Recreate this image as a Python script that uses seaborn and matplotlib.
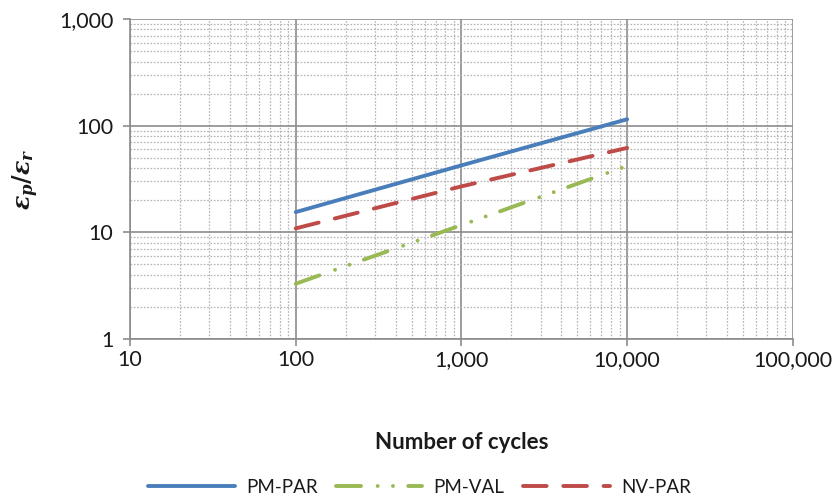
import matplotlib
matplotlib.use("Agg")
import matplotlib.pyplot as plt
import matplotlib.ticker as mticker
from matplotlib.lines import Line2D
import seaborn as sns
import pandas as pd

cycles = [100, 1000, 10000]
pm_par = [15.5, 42.5, 115]
pm_val = [3.3, 11.7, 42]
nv_par = [10.9, 27, 62]
series_names = ["PM-PAR", "PM-VAL", "NV-PAR"]

df = pd.DataFrame({
    "cycles": cycles * 3,
    "ratio": pm_par + pm_val + nv_par,
    "series": [n for n in series_names for _ in cycles],
})

sns.set_theme(style="white")
plt.rcParams['font.family'] = ['Lato', 'DejaVu Sans']
plt.rcParams['lines.scale_dashes'] = False
plt.rcParams['mathtext.fontset'] = 'custom'
plt.rcParams['mathtext.it'] = 'DejaVu Serif:italic:bold'
plt.rcParams['mathtext.rm'] = 'DejaVu Serif:bold'

fig = plt.figure(figsize=(8.39, 4.96), dpi=100)
ax = fig.add_axes([0.155, 0.3165, 0.79, 0.645])

colors = {"PM-PAR": "#4a7ebb", "PM-VAL": "#98b954", "NV-PAR": "#be4b48"}
dashes = {"PM-PAR": "", "PM-VAL": (18, 12, 0.01, 11, 0.01, 11), "NV-PAR": (17, 12)}
LW = 2.8

sns.lineplot(data=df, x="cycles", y="ratio", hue="series", style="series",
             palette=colors, dashes=dashes, linewidth=LW, ax=ax, legend=False)
for ln in ax.get_lines():
    ln.set_solid_capstyle("round")
    ln.set_dash_capstyle("round")

ax.set_xscale("log")
ax.set_yscale("log")
ax.set_xlim(10, 100000)
ax.set_ylim(1, 1000)

fmt = mticker.FuncFormatter(lambda v, p: f"{v:,.0f}")
ax.xaxis.set_major_formatter(fmt)
ax.yaxis.set_major_formatter(fmt)
ax.xaxis.set_minor_formatter(mticker.NullFormatter())
ax.yaxis.set_minor_formatter(mticker.NullFormatter())
ax.xaxis.set_minor_locator(mticker.LogLocator(base=10, subs=range(2, 10), numticks=20))
ax.yaxis.set_minor_locator(mticker.LogLocator(base=10, subs=range(2, 10), numticks=20))

ax.grid(which="major", color="#8c8c8c", linewidth=1.2, linestyle="-")
ax.grid(which="minor", color="#b4b4b4", linewidth=0.9, linestyle=(0, (1.2, 1.2)))
ax.set_axisbelow(True)

for s in ["top", "right"]:
    ax.spines[s].set_visible(False)
for s in ["left", "bottom"]:
    ax.spines[s].set_color("#8c8c8c")
    ax.spines[s].set_linewidth(1.2)

ax.tick_params(axis="both", which="major", length=5, width=1.2, color="#8c8c8c",
               labelsize=15.5, direction="out", bottom=True, left=True, labelcolor="#1a1a1a")
ax.tick_params(axis="x", which="major", pad=3)
ax.tick_params(axis="y", which="major", pad=7)
ax.tick_params(axis="both", which="minor", length=0)

ax.set_xlabel("Number of cycles", fontsize=16, fontweight="bold", color="#1a1a1a")
ax.xaxis.set_label_coords(0.5, -0.292)
ax.set_ylabel(r"$\varepsilon_p/\varepsilon_r$", fontsize=17, color="#1a1a1a")
ax.yaxis.set_label_coords(-0.134, 0.5)

handles = [Line2D([0], [0], color=colors[n], linewidth=LW,
                  linestyle="-" if n == "PM-PAR" else (0, dashes[n]),
                  dash_capstyle="round", solid_capstyle="round") for n in series_names]
fig.legend(handles, series_names, loc="center", bbox_to_anchor=(0.5, 0.018),
           ncol=3, frameon=False, fontsize=13.5, handlelength=4.6, columnspacing=1.0,
           handletextpad=0.6, labelcolor="#1a1a1a")

fig.savefig("out.png", dpi=100)
